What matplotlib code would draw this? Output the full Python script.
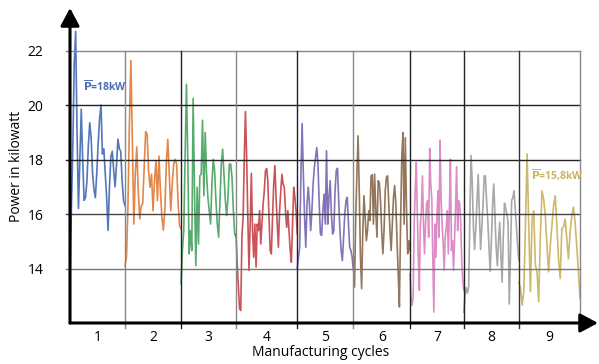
import numpy as np
import matplotlib
matplotlib.use('Agg')
import matplotlib.pyplot as plt

plt.rcParams['font.family'] = ['Open Sans', 'DejaVu Sans']

# Cycle boundaries (in cycle units) and labels
cycle_edges = [0, 0.97, 1.96, 2.93, 4.01, 5.00, 6.00, 6.95, 7.92, 9.00]
cycle_labels = ['1', '2', '3', '4', '5', '6', '7', '8', '9']
y_levels = [14, 16, 18, 20, 22]

# Power readings per manufacturing cycle (kW)
cycle1 = [13.7, 16.2, 18.5, 21.5, 22.7, 19.0, 16.2, 18.0, 19.85, 18.0, 16.5, 16.6,
          17.2, 18.5, 19.35, 18.8, 17.5, 16.9, 16.6, 17.5, 18.6, 19.5, 20.0, 18.2,
          18.4, 17.5, 16.6, 15.4, 17.0, 18.1, 18.3, 17.6, 17.0, 17.8, 18.75, 18.4,
          18.3, 17.2, 16.5, 16.3]
cycle2 = [14.1, 14.4, 16.24, 19.29, 21.63, 18.68, 15.63, 17.46, 18.46, 16.85, 15.82,
          16.3, 16.37, 17.7, 19.02, 18.93, 17.59, 16.98, 17.46, 16.12, 17.22, 17.95,
          16.49, 18.13, 16.85, 15.88, 15.41, 16.12, 17.83, 18.74, 17.46, 16.12, 17.1,
          17.83, 18.01, 17.83, 16.37, 15.57, 15.45]
cycle3 = [13.44, 14.66, 15.39, 18.07, 20.76, 18.07, 14.54, 15.39, 14.66, 20.24, 16.85,
          14.11, 16.98, 14.9, 17.4, 17.46, 19.44, 16.67, 18.99, 17.46, 16.61, 16.12,
          15.63, 17.1, 18.01, 17.59, 16.49, 15.63, 15.15, 16.49, 17.83, 18.38, 17.46,
          16.49, 15.94, 16.61, 17.83, 17.83, 17.34, 16.12, 15.27, 15.15]
cycle4 = [15.27, 14.17, 13.32, 12.52, 12.46, 15.15, 15.88, 18.07, 19.76, 18.07, 15.88,
          13.93, 15.63, 17.49, 15.39, 14.41, 15.63, 14.05, 15.63, 15.39, 16.12, 14.9,
          15.63, 16.37, 16.85, 17.59, 17.67, 17.22, 15.88, 14.66, 14.54, 15.88, 17.1,
          17.78, 16.61, 15.63, 14.78, 16.12, 16.85, 17.46, 17.1, 16.98, 16.12, 15.51,
          16.12, 15.39, 14.66, 14.23, 15.63, 16.98, 16.61, 16.12, 15.27]
cycle5 = [13.99, 14.41, 14.78, 17.46, 19.32, 17.46, 15.88, 14.78, 16.37, 16.98, 16.37,
          15.39, 16.12, 17.1, 17.71, 18.07, 18.44, 17.83, 16.37, 15.27, 15.21, 16.12,
          16.73, 15.63, 18.32, 15.63, 16.61, 17.22, 16.0, 15.27, 15.39, 16.85, 17.59,
          17.68, 16.49, 15.39, 14.66, 14.29, 15.15, 16.0, 16.49, 16.61, 15.63, 14.78,
          14.66, 14.41, 13.93]
cycle6 = [14.41, 13.32, 15.88, 17.46, 18.87, 16.85, 14.41, 13.26, 15.39, 16.67, 15.88,
          15.02, 15.39, 16.12, 15.76, 17.4, 17.44, 15.63, 17.46, 16.12, 15.15, 17.22,
          17.16, 16.49, 15.39, 14.54, 15.39, 16.85, 17.34, 17.4, 16.37, 15.39, 14.66,
          15.63, 16.61, 17.04, 16.37, 15.02, 13.8, 12.59, 15.63, 18.07, 18.99, 15.63,
          18.8, 16.24, 14.54, 15.02, 14.66]
cycle7 = [13.8, 12.95, 12.65, 12.95, 15.63, 16.85, 17.89, 16.12, 14.41, 13.2, 15.63,
          16.12, 17.4, 15.63, 14.54, 15.63, 16.37, 16.49, 15.15, 18.41, 17.1, 16.61,
          14.41, 12.4, 15.63, 14.41, 15.88, 16.85, 15.15, 18.71, 16.61, 15.63, 14.9,
          13.93, 15.15, 15.51, 16.12, 14.54, 16.12, 18.01, 14.66, 15.02, 13.93, 15.02,
          16.24, 17.73, 15.39, 16.49, 16.37, 15.63, 14.17, 13.56, 13.2]
cycle8 = [12.4, 13.0, 13.3, 13.1, 13.3, 15.8, 18.15, 17.2, 15.5, 14.7, 15.5, 16.5,
          17.45, 16.0, 14.7, 15.5, 16.3, 17.4, 17.4, 16.5, 15.8, 14.8, 13.9, 15.0,
          16.3, 17.1, 16.0, 14.8, 14.1, 15.0, 15.7, 14.5, 13.5, 15.2, 16.4, 16.2,
          16.0, 15.7, 12.7, 14.5, 16.5, 16.6, 16.85, 16.2, 15.5, 14.85, 14.3]
cycle9 = [13.51, 13.27, 12.66, 13.15, 15.58, 18.21, 15.58, 13.15, 15.82, 16.12, 14.12,
          13.88, 12.78, 15.21, 16.85, 16.55, 15.94, 14.85, 13.88, 14.85, 15.58, 16.31,
          16.67, 15.58, 14.36, 13.63, 15.46, 15.52, 15.82, 15.09, 14.36, 15.33, 15.94,
          16.25, 15.7, 14.85, 13.88, 12.9]

cycles = [cycle1, cycle2, cycle3, cycle4, cycle5, cycle6, cycle7, cycle8, cycle9]
colors = ['#4a70b8', '#e2803f', '#4ea766', '#c84a50', '#7c6cb6',
          '#8e6f52', '#dc86c4', '#a3a3a3', '#cbb463']

fig = plt.figure(figsize=(5.99, 3.64), dpi=100)
ax = fig.add_axes([70 / 599, 1 - 323 / 364, 528 / 599, 315 / 364])
ax.set_xlim(0, 9.317)
ax.set_ylim(12.0, 23.56)
for s in ax.spines.values():
    s.set_visible(False)

# data lines
for k, vals in enumerate(cycles):
    x = np.linspace(cycle_edges[k], cycle_edges[k + 1], len(vals))
    ax.plot(x, vals, color=colors[k], lw=1.2, alpha=0.95, zorder=2,
            solid_joinstyle='round')

# grid
h_colors = ['#777777', '#444444', '#222222', '#222222', '#888888']
for lv, c in zip(y_levels, h_colors):
    ax.plot([-0.07, cycle_edges[-1]], [lv, lv], color=c, lw=1.0,
            zorder=3, clip_on=False)
v_colors = ['#888888', '#222222', '#888888', '#222222', '#888888',
            '#222222', '#222222', '#333333', '#888888']
for e, c in zip(cycle_edges[1:], v_colors):
    ax.plot([e, e], [11.8, 22], color=c, lw=1.0, zorder=3, clip_on=False)

# axes with arrows
arrow = dict(arrowstyle='-|>,head_length=0.6,head_width=0.32', color='black',
             lw=2.2, mutation_scale=18, shrinkA=0, shrinkB=0)
ax.annotate('', xy=(0, 1), xytext=(0, 0), xycoords='axes fraction',
            arrowprops=arrow, zorder=5)
ax.annotate('', xy=(1, 0), xytext=(0, 0), xycoords='axes fraction',
            arrowprops=arrow, zorder=5)

# ticks
ax.set_yticks(y_levels)
ax.set_yticklabels([str(v) for v in y_levels], fontsize=10)
ax.tick_params(axis='y', length=0, pad=19)
centers = [(cycle_edges[i] + cycle_edges[i + 1]) / 2 for i in range(9)]
ax.set_xticks(centers)
ax.set_xticklabels(cycle_labels, fontsize=10)
ax.tick_params(axis='x', length=0, pad=5)

# annotations
ax.text(0.23, 20.68, r'$\overline{\mathbf{P}}$=18kW', color='#4a70b8',
        fontsize=7.5, fontweight='bold', ha='left', va='center', zorder=4)
ax.text(8.13, 17.41, r'$\overline{\mathbf{P}}$=15,8kW', color='#cbb463',
        fontsize=7.5, fontweight='bold', ha='left', va='center', zorder=4)

fig.text(17 / 599, 1 - 166 / 364, 'Power in kilowatt', rotation=90,
         ha='center', va='center', fontsize=10)
fig.text(321 / 599, 1 - 353 / 364, 'Manufacturing cycles',
         ha='center', va='center', fontsize=10)

fig.savefig('out.png', dpi=100)
